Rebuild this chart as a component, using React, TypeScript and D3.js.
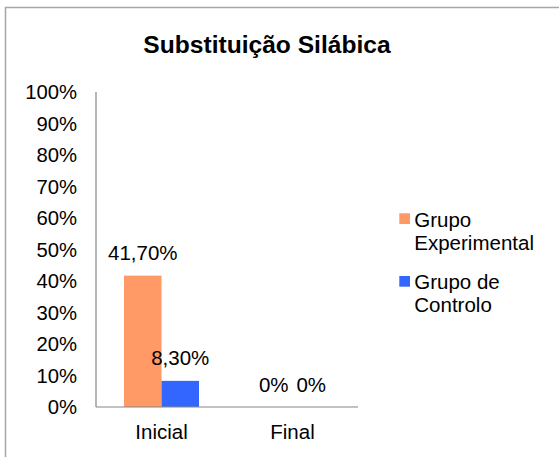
import React from "react";
import * as d3 from "d3";

const categories = ["Inicial", "Final"];
const seriesNames = ["Grupo Experimental", "Grupo de Controlo"];
const legendLines = [["Grupo", "Experimental"], ["Grupo de", "Controlo"]];
const experimental = [0.417, 0];
const controlo = [0.083, 0];
const labelsExperimental = ["41,70%", "0%"];
const labelsControlo = ["8,30%", "0%"];
const yTicks = [0, 0.1, 0.2, 0.3, 0.4, 0.5, 0.6, 0.7, 0.8, 0.9, 1];
const colors = ["#FF9966", "#3366FF"];
const title = "Substituição Silábica";

const FONT = "'Liberation Sans', Arial, Helvetica, sans-serif";

export default function App() {
  const W = 559, H = 457;
  const left = 96, right = 358, top = 92, bottom = 407;
  const x0 = d3.scaleBand<string>().domain(categories).range([left, right]).padding(0);
  const x1 = d3.scaleBand<string>().domain(seriesNames).range([0, x0.bandwidth()]).paddingInner(0).paddingOuter(0.7467);
  const y = d3.scaleLinear().domain([0, 1]).range([bottom, top]);
  const fmt = (v: number) => `${Math.round(v * 100)}%`;
  const series = [experimental, controlo];
  const labels = [labelsExperimental, labelsControlo];

  return (
    <svg width={W} height={H} style={{ position: "absolute", left: 0, top: 0 }} fontFamily={FONT}>
      <rect x={0} y={0} width={W} height={H} fill="#fff" />
      <path d={`M5.5,${H + 5} L5.5,7.5 L${W + 5},7.5`} fill="none" stroke="#a6a6a6" strokeWidth={1.5} />
      <text x={267} y={53} textAnchor="middle" fontWeight="bold" fontSize={24.6} fill="#000">{title}</text>
      {yTicks.map((t) => (
        <text key={t} x={77} y={y(t)} dy="0.35em" textAnchor="end" fontSize={20.3} fill="#000">{fmt(t)}</text>
      ))}
      {categories.map((c, ci) =>
        series.map((s, si) => {
          const bx = (x0(c) as number) + (x1(seriesNames[si]) as number);
          const bw = x1.bandwidth();
          return (
            <g key={`${c}-${si}`}>
              {s[ci] > 0 && <rect x={bx} y={y(s[ci])} width={bw} height={bottom - y(s[ci])} fill={colors[si]} />}
              <text x={bx + bw / 2} y={y(s[ci]) - 15.5} textAnchor="middle" fontSize={20.5} fill="#000">{labels[si][ci]}</text>
            </g>
          );
        })
      )}
      <line x1={left} x2={left} y1={top} y2={bottom} stroke="#868686" strokeWidth={1.2} />
      <line x1={left} x2={right} y1={bottom} y2={bottom} stroke="#868686" strokeWidth={1.2} />
      {categories.map((c) => (
        <text key={c} x={(x0(c) as number) + x0.bandwidth() / 2} y={439} textAnchor="middle" fontSize={20.5} fill="#000">{c}</text>
      ))}
      {legendLines.map((lines, i) => {
        const sy = [213.3, 276][i];
        const by = [226.7, 289][i];
        return (
          <g key={i}>
            <rect x={399.3} y={sy} width={10.7} height={10.7} fill={colors[i]} />
            {lines.map((ln, li) => (
              <text key={li} x={414.3} y={by + li * 23} fontSize={20.5} fill="#000">{ln}</text>
            ))}
          </g>
        );
      })}
    </svg>
  );
}
